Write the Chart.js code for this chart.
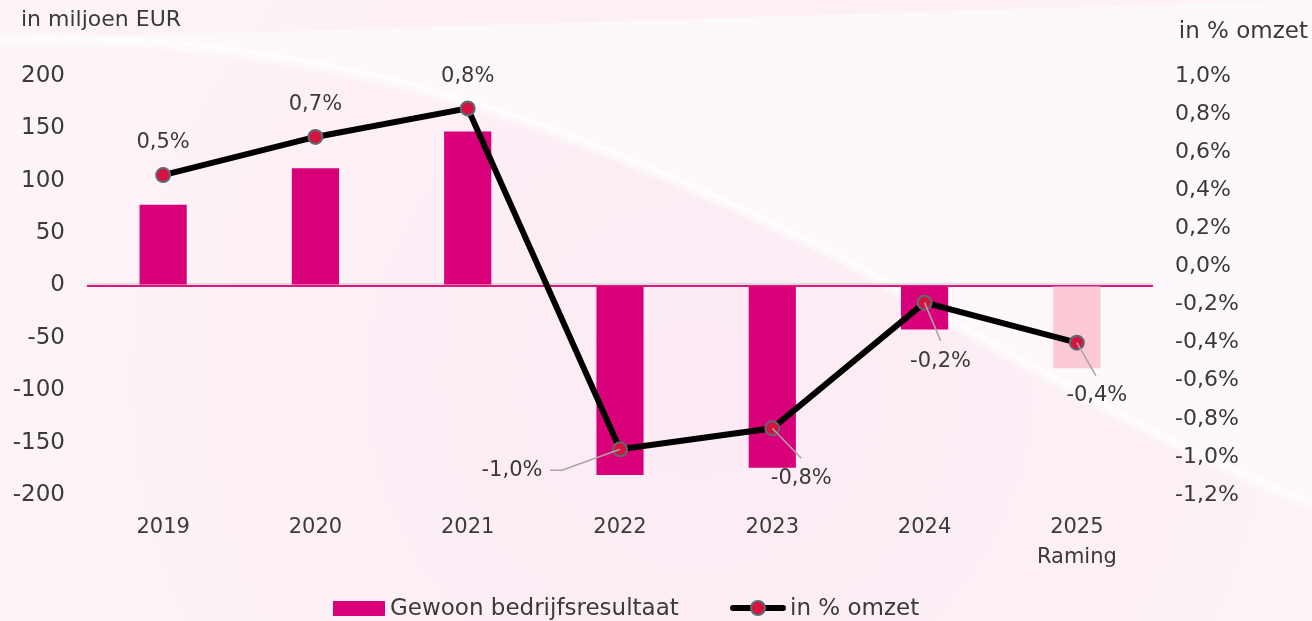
<!DOCTYPE html>
<html>
<head>
<meta charset="utf-8">
<script src="https://cdn.jsdelivr.net/npm/chart.js@4.4.1/dist/chart.umd.min.js"></script>
<style>
  html, body { margin: 0; padding: 0; background: #fdf2f7; }
  #wrap { position: relative; width: 1312px; height: 621px; }
  #legend {
    position: absolute; left: 0; top: 594px; width: 1312px;
    font-family: "DejaVu Sans", sans-serif; font-size: 23px; color: #3a3a3a;
  }
  #legend .item { position: absolute; top: 0; white-space: nowrap; }
  .swatch-bar { display: inline-block; width: 52px; height: 15px; background: #D9017A; vertical-align: -1px; margin-right: 5px; }
  .swatch-line { display: inline-block; position: relative; width: 56px; height: 16px; vertical-align: -1px; margin-right: 4px; }
  .swatch-line::before { content: ""; position: absolute; left: 0; right: 0; top: 5px; height: 6px; background: #000; border-radius: 3px; }
  .swatch-line::after { content: ""; position: absolute; left: 20px; top: 0; width: 12px; height: 12px; background: #D8123F; border: 2px solid #5E6A74; border-radius: 50%; }
</style>
</head>
<body>
<div id="wrap">
  <canvas id="chart" width="1312" height="621"></canvas>
  <div id="legend">
    <span class="item" style="left:333px"><span class="swatch-bar"></span>Gewoon bedrijfsresultaat</span>
    <span class="item" style="left:730px"><span class="swatch-line"></span>in % omzet</span>
  </div>
</div>
<script>
// ------------------------
// DATA
// ------------------------
const years = ["2019", "2020", "2021", "2022", "2023", "2024", ["2025", "Raming"]];
const resultaat = [77, 112, 147, -181, -174, -42, -79];          // in miljoen EUR
const omzetPct = [0.48, 0.68, 0.83, -0.96, -0.85, -0.19, -0.40]; // in % omzet
const barColors = ["#D9017A", "#D9017A", "#D9017A", "#D9017A", "#D9017A", "#D9017A", "#FCC9D6"];

const FONT = "DejaVu Sans";
const TEXT = "#3a3a3a";

function pctLabel(v) {
  return v.toFixed(1).replace(".", ",") + "%";
}

// ------------------------
// BACKGROUND CURVE
// ------------------------
const backgroundPlugin = {
  id: "bg",
  beforeDraw(chart) {
    const ctx = chart.ctx;
    const w = chart.width, h = chart.height;
    ctx.save();
    const rg = ctx.createRadialGradient(700, 380, 50, 700, 380, 800);
    rg.addColorStop(0, "#fcebf4");
    rg.addColorStop(1, "#fdf5f9");
    ctx.fillStyle = rg;
    ctx.fillRect(0, 0, w, h);

    const curve = () => {
      ctx.moveTo(0, 40);
      ctx.bezierCurveTo(350, 30, 600, 140, 840, 258);
      ctx.bezierCurveTo(1000, 350, 1150, 440, 1312, 505);
    };
    ctx.fillStyle = "#fdf8fb";
    ctx.beginPath();
    ctx.moveTo(0, 0);
    curve();
    ctx.lineTo(w, 0);
    ctx.closePath();
    ctx.fill();

    ctx.strokeStyle = "rgba(255,255,255,0.45)";
    ctx.lineWidth = 10;
    ctx.shadowColor = "rgba(255,255,255,0.6)";
    ctx.shadowBlur = 8;
    ctx.beginPath();
    curve();
    ctx.stroke();
    ctx.restore();
  },
  beforeDatasetsDraw(chart) {
    // thin grey axis line just above the pink zero line
    const ctx = chart.ctx;
    const y0 = chart.scales.y.getPixelForValue(0);
    ctx.save();
    ctx.strokeStyle = "#d6d6d6";
    ctx.lineWidth = 1.5;
    ctx.beginPath();
    ctx.moveTo(chart.chartArea.left, y0 - 1.5);
    ctx.lineTo(chart.chartArea.right, y0 - 1.5);
    ctx.stroke();
    ctx.restore();
  }
};

// ------------------------
// TITLES + POINT LABELS
// ------------------------
// label offsets from each point: [dx, dy, leaderEndX, leaderEndY, elbowX]
const labelOffsets = [
  [0, -32], [0, -32], [0, -32],
  [-108, 21, -58, 21, -70],
  [29, 50, 29, 30],
  [16, 59, 16, 38],
  [20, 53, 19, 33]
];

const labelPlugin = {
  id: "labels",
  afterDatasetsDraw(chart) {
    const ctx = chart.ctx;
    ctx.save();
    ctx.fillStyle = TEXT;
    ctx.font = `22px "${FONT}"`;
    ctx.textAlign = "left";
    ctx.textBaseline = "middle";
    ctx.fillText("in miljoen EUR", 21, 20);
    ctx.textAlign = "right";
    ctx.font = `23px "${FONT}"`;
    ctx.fillText("in % omzet", 1308, 32);

    const meta = chart.getDatasetMeta(0);
    ctx.font = `21px "${FONT}"`;
    ctx.textAlign = "center";
    meta.data.forEach((pt, i) => {
      const o = labelOffsets[i];
      if (o.length > 2) {
        ctx.strokeStyle = "#A6A6A6";
        ctx.lineWidth = 1.5;
        ctx.beginPath();
        ctx.moveTo(pt.x, pt.y);
        ctx.lineTo(pt.x + o[2], pt.y + o[3]);
        if (o.length > 4) ctx.lineTo(pt.x + o[4], pt.y + o[3]);
        ctx.stroke();
      }
      ctx.fillText(pctLabel(omzetPct[i]), pt.x + o[0], pt.y + o[1]);
    });
    ctx.restore();
  }
};

// ------------------------
// CHART
// ------------------------
const ctx = document.getElementById("chart");
new Chart(ctx, {
  data: {
    labels: years,
    datasets: [
      {
        type: "line",
        label: "in % omzet",
        data: omzetPct,
        yAxisID: "y1",
        borderColor: "#000000",
        borderWidth: 6,
        pointRadius: 7,
        pointBackgroundColor: "#D8123F",
        pointBorderColor: "#5E6A74",
        pointBorderWidth: 2,
        tension: 0,
        order: 1
      },
      {
        type: "bar",
        label: "Gewoon bedrijfsresultaat",
        data: resultaat,
        yAxisID: "y",
        backgroundColor: barColors,
        barPercentage: 0.31,
        categoryPercentage: 1,
        order: 2
      }
    ]
  },
  options: {
    responsive: false,
    animation: false,
    layout: { padding: { top: 76, bottom: 0, left: 0, right: 0 } },
    plugins: {
      legend: { display: false },
      tooltip: { enabled: false }
    },
    scales: {
      x: {
        grid: { display: false, drawTicks: false },
        border: { display: false },
        ticks: {
          color: TEXT,
          padding: 18,
          maxRotation: 0,
          font: { family: FONT, size: 21, lineHeight: 1.4 }
        },
        afterFit(scale) { scale.height = 126; }
      },
      y: {
        position: "left",
        min: -200,
        max: 200,
        ticks: {
          stepSize: 50,
          color: TEXT,
          padding: 22,
          font: { family: FONT, size: 23 }
        },
        grid: {
          drawTicks: false,
          lineWidth: 2,
          color: (c) => (c.tick && c.tick.value === 0 ? "#E0157D" : "rgba(0,0,0,0)")
        },
        border: { display: false },
        afterFit(scale) { scale.width = 87; }
      },
      y1: {
        position: "right",
        min: -1.2,
        max: 1.0,
        ticks: {
          stepSize: 0.2,
          color: TEXT,
          padding: 22,
          font: { family: FONT, size: 22 },
          callback: (v) => pctLabel(v)
        },
        grid: { display: false, drawTicks: false },
        border: { display: false },
        afterFit(scale) { scale.width = 159; }
      }
    }
  },
  plugins: [backgroundPlugin, labelPlugin]
});
</script>
</body>
</html>
